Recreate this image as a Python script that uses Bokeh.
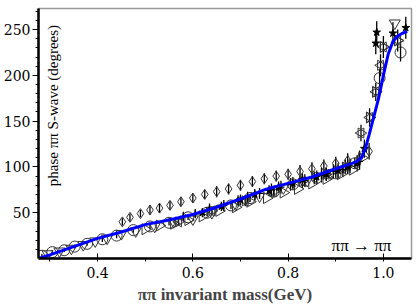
import math
from bokeh.plotting import figure
from bokeh.models import Range1d, FixedTicker, Label, PrintfTickFormatter
from bokeh.embed import file_html
from bokeh.resources import INLINE

# ---- data ----
x_ticks = [0.4, 0.6, 0.8, 1.0]
x_minor = [0.3, 0.5, 0.7, 0.9]
y_ticks = [50, 100, 150, 200, 250]
y_minor = [10, 20, 30, 40, 60, 70, 80, 90, 110, 120, 130, 140, 160, 170, 180, 190,
           210, 220, 230, 240, 260, 270]

# fit curve
fit_m = [0.276, 0.30, 0.35, 0.40, 0.45, 0.50, 0.55, 0.60, 0.65, 0.70, 0.75, 0.80, 0.85,
         0.90, 0.93, 0.945, 0.955, 0.962, 0.97, 0.98, 0.99, 1.00, 1.01, 1.02, 1.03, 1.04, 1.05]
fit_v = [0, 4, 13, 22, 29, 37, 42, 48, 56, 65, 75, 82, 89,
         98, 103, 106, 111, 120, 135, 155, 175, 200, 223, 237, 243, 246, 248]

# open circles
m1 = [0.283, 0.305, 0.33, 0.352, 0.378, 0.41, 0.44, 0.475, 0.51, 0.55, 0.59, 0.63, 0.68,
      0.72, 0.77, 0.81, 0.86, 0.90, 0.94, 0.992, 1.036]
v1 = [3, 7, 9, 13, 16, 21, 25, 31, 35, 39, 45, 50, 58, 66, 73, 81, 88, 93, 104, 197, 225]
e1 = [2, 2, 2, 2, 2, 3, 3, 3, 3, 3, 3, 4, 4, 4, 4, 4, 5, 5, 6, 10, 10]

# hearts
m2 = [0.295, 0.32, 0.345, 0.37, 0.395, 0.42, 0.45, 0.48, 0.52, 0.56, 0.60, 0.64, 0.69,
      0.74, 0.79, 0.84, 0.89, 1.024]
v2 = [5, 8, 11, 15, 19, 22, 27, 30, 35, 40, 43, 50, 59, 68, 77, 85, 93, 257]

# diamonds
m3 = [0.452, 0.468, 0.49, 0.51, 0.53, 0.552, 0.575, 0.60, 0.625, 0.65, 0.675, 0.70, 0.725,
      0.75, 0.775, 0.80, 0.825, 0.85, 0.875, 0.90, 0.925, 0.95, 0.97]
v3 = [40, 45, 49, 53, 55, 58, 62, 66, 70, 73, 76, 80, 84, 87, 90, 92, 95, 98, 101, 104, 107, 110, 117]
e3 = [4, 4, 4, 5, 5, 5, 5, 5, 5, 6, 6, 6, 6, 6, 6, 6, 7, 7, 7, 7, 8, 8, 9]

# right-pointing triangles
m4 = [0.50, 0.53, 0.56, 0.59, 0.62, 0.655, 0.69, 0.72, 0.755, 0.79, 0.82, 0.85, 0.88,
      0.91, 0.935, 0.955, 0.971, 0.984, 1.0, 1.03]
v4 = [32, 36, 38, 42, 46, 52, 56, 62, 66, 72, 76, 82, 87, 92, 97, 110, 154, 182, 231, 238]

# stars
m5 = [0.62, 0.66, 0.70, 0.73, 0.76, 0.78, 0.81, 0.83, 0.86, 0.88, 0.905, 0.925, 0.945,
      0.96, 0.984, 0.986, 1.02, 1.047]
v5 = [50, 57, 64, 70, 74, 78, 82, 86, 89, 92, 96, 100, 104, 120, 235, 247, 246, 252]
e5 = [5, 5, 6, 6, 6, 6, 7, 7, 7, 7, 8, 8, 9, 10, 12, 12, 12, 12]

# bowties
m6 = [0.57, 0.64, 0.71, 0.77, 0.83, 0.88, 0.92, 0.953, 0.971, 0.984, 0.994, 1.0, 1.03]
v6 = [40, 52, 63, 73, 84, 92, 100, 137, 154, 182, 211, 231, 238]
e6 = [4, 5, 6, 6, 7, 7, 8, 9, 10, 10, 12, 12, 12]

# crosses with error bars
m7 = [0.58, 0.605, 0.635, 0.665, 0.695, 0.715, 0.74, 0.765, 0.785, 0.805, 0.835, 0.855,
      0.87, 0.895, 0.915, 0.93, 0.95]
v7 = [46, 49, 55, 58, 63, 67, 71, 75, 78, 81, 85, 88, 91, 95, 97, 101, 106]
e7 = [5, 5, 5, 6, 6, 6, 6, 7, 7, 7, 7, 7, 8, 8, 8, 8, 9]

DIG = "DejaVu Serif"
TXT = "Liberation Serif"
INK = "#333333"

p = figure(frame_width=373, frame_height=250, output_backend="svg", toolbar_location=None,
           x_range=Range1d(0.276, 1.059), y_range=Range1d(0, 273),
           min_border_left=38, min_border_right=2, min_border_top=8, min_border_bottom=10)
p.grid.visible = False
p.outline_line_color = "#999999"
p.outline_line_width = 1.5
p.background_fill_color = "white"
p.border_fill_color = "white"

def ebar(ms, vs, es):
    p.segment(x0=ms, x1=ms, y0=[v - e for v, e in zip(vs, es)],
              y1=[v + e for v, e in zip(vs, es)], line_color="black", line_width=1.3)

ebar(m1, v1, e1)
ebar(m3, v3, e3)
ebar(m5, v5, e5)
ebar(m6, v6, e6)
ebar(m7, v7, e7)

kw = dict(fill_color=None, line_color=INK, line_width=1)
p.scatter(m1, v1, marker="circle", size=11, **kw)
p.scatter(m2, v2, marker="inverted_triangle", size=11, **kw)
p.scatter(m3, v3, marker="diamond", size=10, **kw)
p.scatter(m4, v4, marker="triangle", angle=-math.pi / 2, size=11, **kw)
p.scatter(m6, v6, marker="triangle", angle=-math.pi / 2, size=10, **kw)
p.scatter(m6, v6, marker="triangle", angle=math.pi / 2, size=10, **kw)
p.scatter(m7, v7, marker="cross", size=7, line_color="black", line_width=1.2)
p.scatter(m5, v5, marker="star", size=8, fill_color="black", line_color="black")

p.line(fit_m, fit_v, line_color="#0000ff", line_width=3)

for ax in (p.xaxis[0], p.yaxis[0]):
    ax.axis_line_width = 2.5
    ax.axis_line_color = "black"
    ax.major_tick_line_color = "black"
    ax.minor_tick_line_color = "black"
    ax.major_label_text_font = DIG
    ax.major_label_text_font_size = "14px"
    ax.major_label_text_color = "black"

p.xaxis.ticker = FixedTicker(ticks=x_ticks, minor_ticks=x_minor)
p.xaxis.formatter = PrintfTickFormatter(format="%.1f")
p.yaxis.ticker = FixedTicker(ticks=y_ticks, minor_ticks=y_minor)
p.xaxis.major_tick_in = 5
p.xaxis.major_tick_out = 3
p.xaxis.minor_tick_in = 0
p.xaxis.minor_tick_out = 3
p.xaxis.major_label_standoff = 5
p.xaxis.axis_label = "ππ invariant mass(GeV)"
p.xaxis.axis_label_text_font = TXT
p.xaxis.axis_label_text_font_style = "bold"
p.xaxis.axis_label_text_font_size = "17px"
p.xaxis.axis_label_standoff = 4

p.yaxis.major_tick_in = 0
p.yaxis.major_tick_out = 6
p.yaxis.minor_tick_in = 0
p.yaxis.minor_tick_out = 3
p.yaxis.major_label_standoff = 2

p.add_layout(Label(x=0.307, y=167, text="phase ππ S-wave (degrees)", angle=math.pi / 2,
                   text_align="center", text_baseline="middle", text_font=TXT,
                   text_font_size="15px", text_color="black"))
p.add_layout(Label(x=0.954, y=14, text="ππ → ππ", text_align="center",
                   text_baseline="middle", text_font=TXT, text_font_size="17px",
                   text_color="black"))

open("out.html", "w").write(file_html(p, INLINE))
